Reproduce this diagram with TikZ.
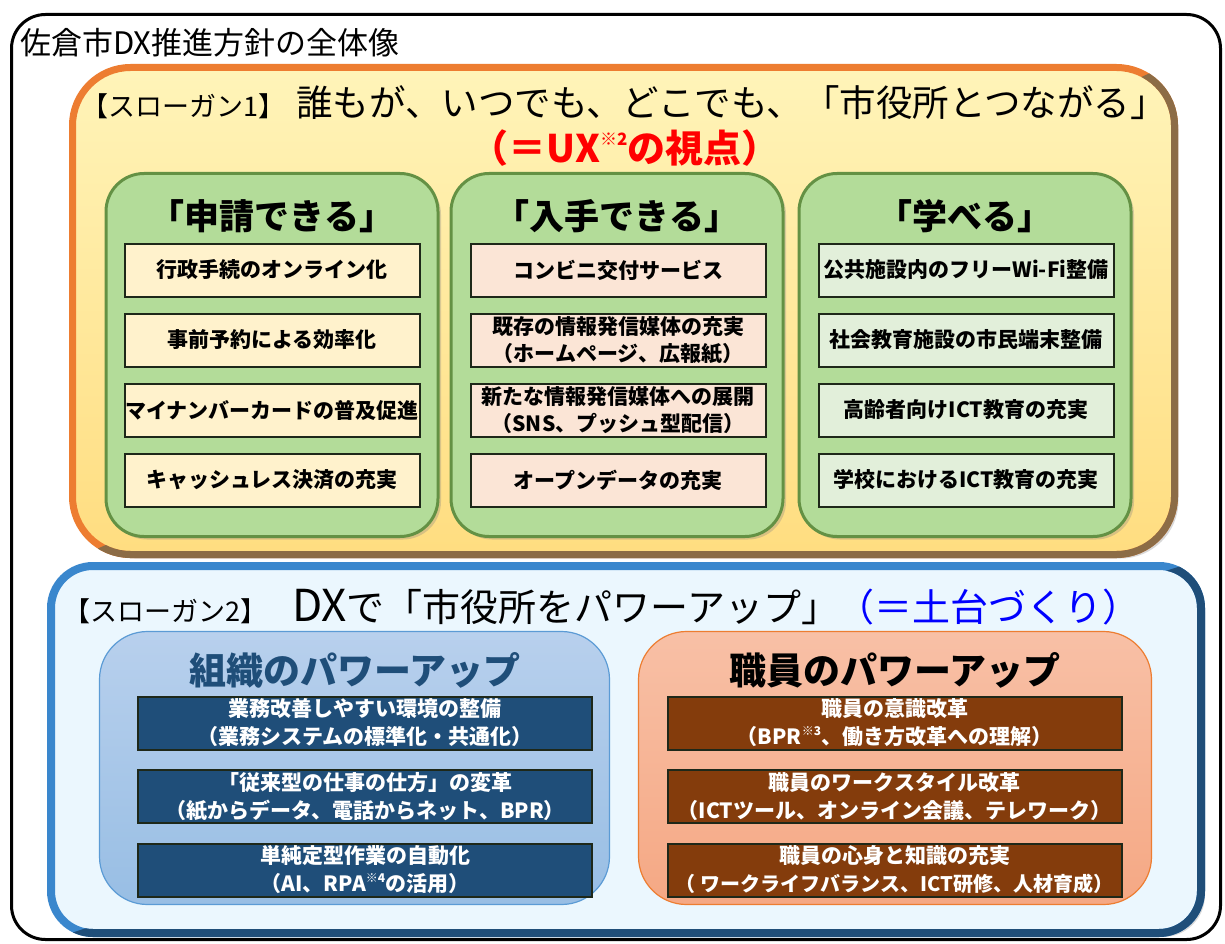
\documentclass[tikz,border=0pt]{standalone}
\usepackage{fontspec}
\setmainfont{Noto Sans CJK JP}
\usepackage{tikz}
\usetikzlibrary{
  positioning,
  calc,
  shadows
}
\definecolor{SloganOneTop}{RGB}{255,244,185}
\definecolor{SloganOneBottom}{RGB}{255,221,128}
\definecolor{SloganOneEdge}{RGB}{237,125,49}
\definecolor{SloganOneDark}{RGB}{140,108,70}
\definecolor{GroupGreen}{RGB}{179,220,153}
\definecolor{GroupGreenEdge}{RGB}{100,145,68}
\definecolor{ItemYellow}{RGB}{255,242,204}
\definecolor{ItemPeach}{RGB}{251,229,214}
\definecolor{ItemGreen}{RGB}{226,239,218}
\definecolor{ItemEdge}{RGB}{30,40,25}
\definecolor{SloganTwoFill}{RGB}{235,247,254}
\definecolor{SloganTwoEdge}{RGB}{58,135,205}
\definecolor{SloganTwoDark}{RGB}{31,78,121}
\definecolor{OrgTop}{RGB}{184,208,237}
\definecolor{OrgBottom}{RGB}{152,190,228}
\definecolor{OrgEdge}{RGB}{91,155,213}
\definecolor{OrgText}{RGB}{31,78,121}
\definecolor{StaffTop}{RGB}{248,192,166}
\definecolor{StaffBottom}{RGB}{245,168,132}
\definecolor{StaffEdge}{RGB}{237,125,49}
\definecolor{StaffItem}{RGB}{132,60,12}
\definecolor{UXRed}{RGB}{255,0,0}
\definecolor{BaseBlue}{RGB}{0,0,255}
% raised note mark (size, number)
\newcommand{\kome}[2]{\raisebox{0.45em}{\fontsize{#1}{#1}\selectfont ※#2}}
\tikzset{
  % Outer frame
  framebox/.style={
    draw=black,
    line width=3pt,
    fill=white,
    rounded corners=34pt,
    minimum width=1209pt,
    minimum height=925pt,
    inner sep=0pt,
    outer sep=0pt
  },
  % Slogan 1 container
  slogan1box/.style={
    draw=SloganOneEdge,
    line width=7pt,
    top color=SloganOneTop,
    bottom color=SloganOneBottom,
    rounded corners=58pt,
    minimum width=1102pt,
    minimum height=487pt,
    inner sep=0pt,
    outer sep=0pt,
    drop shadow={shadow xshift=4pt, shadow yshift=-4pt, opacity=0.3}
  },
  % Slogan 2 container
  slogan2box/.style={
    draw=SloganTwoEdge,
    line width=8pt,
    fill=SloganTwoFill,
    rounded corners=42pt,
    minimum width=1150pt,
    minimum height=367pt,
    inner sep=0pt,
    outer sep=0pt,
    drop shadow={shadow xshift=4pt, shadow yshift=-4pt, opacity=0.3}
  },
  % Green group box
  groupbox/.style={
    draw=GroupGreenEdge,
    line width=3pt,
    fill=GroupGreen,
    rounded corners=38pt,
    minimum width=332pt,
    minimum height=363pt,
    inner sep=0pt,
    outer sep=0pt,
    drop shadow={shadow xshift=3pt, shadow yshift=-3pt, opacity=0.3}
  },
  % Item inside a group
  itembox/.style={
    draw=ItemEdge,
    line width=2pt,
    minimum width=295pt,
    minimum height=53pt,
    inner sep=0pt,
    align=center,
    font=\fontsize{21}{27}\selectfont\bfseries
  },
  % Organisation / staff boxes
  orgbox/.style={
    draw=OrgEdge,
    line width=1.2pt,
    top color=OrgTop,
    bottom color=OrgBottom,
    rounded corners=48pt,
    minimum width=510pt,
    minimum height=273pt,
    inner sep=0pt
  },
  staffbox/.style={
    draw=StaffEdge,
    line width=1.2pt,
    top color=StaffTop,
    bottom color=StaffBottom,
    rounded corners=48pt,
    minimum width=513pt,
    minimum height=273pt,
    inner sep=0pt
  },
  % Dark items
  darkitem/.style={
    draw=ItemEdge,
    line width=2pt,
    text=white,
    minimum width=454pt,
    minimum height=53pt,
    inner sep=0pt,
    align=center,
    font=\fontsize{21}{28}\selectfont\bfseries
  },
  % Texts
  titletext/.style={font=\fontsize{31}{34}\selectfont, inner sep=0pt},
  slogantag/.style={font=\fontsize{27}{30}\selectfont, inner sep=0pt},
  sloganmain/.style={font=\fontsize{36.5}{40}\selectfont, inner sep=0pt},
  slogannote/.style={font=\fontsize{38}{42}\selectfont, inner sep=0pt},
  grouphead/.style={font=\fontsize{35}{40}\selectfont\bfseries, inner sep=0pt},
  powerhead/.style={font=\fontsize{37}{42}\selectfont\bfseries, inner sep=0pt}
}

\begin{document}
\begin{tikzpicture}[x=1pt,y=-1pt]
  \useasboundingbox (0,0) rectangle (1225,944);
  \node[framebox] (frame) at (616,477) {};
  \node[titletext, anchor=base west] (title) at (20,55) {佐倉市DX推進方針の全体像};

  % slogan 1
  \node[slogan1box] (slogan1) at (623.5,311) {};
  \begin{scope}
    \clip ($(slogan1.south west)+(-10,10)$) -- ($(slogan1.north east)+(10,-10)$) -- ($(slogan1.south east)+(10,10)$) -- cycle;
    \draw[SloganOneDark, line width=7pt, rounded corners=58pt] (slogan1.south west) rectangle (slogan1.north east);
  \end{scope}
  \node[slogantag, anchor=base west] (s1tag) at (81,117) {【スローガン1】};
  \node[sloganmain, anchor=base west] (s1main) at (296,117) {誰もが、いつでも、どこでも、「市役所とつながる」};
  \node[slogannote, text=UXRed, font=\fontsize{38}{42}\selectfont\bfseries, anchor=base] (s1note) at (625,163) {（＝UX\kome{17}{2}の視点）};

  \foreach \n/\xx/\hd in {apply/272/「申請できる」, obtain/617/「入手できる」, learn/965/「学べる」} {
    \node[groupbox] (\n) at (\xx,355) {};
    \node[grouphead, anchor=base] (\n-head) at (\xx,229) {\hd};
  }
  \foreach \t [count=\i] in {行政手続のオンライン化, 事前予約による効率化, マイナンバーカードの普及促進, キャッシュレス決済の充実}
    \node[itembox, fill=ItemYellow] (apply\i) at (272,{200+70*\i}) {\t};
  \foreach \t [count=\i] in {コンビニ交付サービス, {既存の情報発信媒体の充実\\（ホームページ、広報紙）}, {新たな情報発信媒体への展開\\（SNS、プッシュ型配信）}, オープンデータの充実}
    \node[itembox, fill=ItemPeach] (obtain\i) at (618,{200+70*\i}) {\t};
  \foreach \t [count=\i] in {公共施設内のフリーWi-Fi整備, 社会教育施設の市民端末整備, 高齢者向けICT教育の充実, 学校におけるICT教育の充実}
    \node[itembox, fill=ItemGreen] (learn\i) at (966,{200+70*\i}) {\t};

  % slogan 2
  \node[slogan2box] (slogan2) at (626,749.5) {};
  \begin{scope}
    \clip ($(slogan2.south west)+(-10,10)$) -- ($(slogan2.north east)+(10,-10)$) -- ($(slogan2.south east)+(10,10)$) -- cycle;
    \draw[SloganTwoDark, line width=8pt, rounded corners=42pt] (slogan2.south west) rectangle (slogan2.north east);
  \end{scope}
  \node[slogantag, anchor=base west] (s2tag) at (63,621) {【スローガン2】};
  \node[sloganmain, font=\fontsize{38}{42}\selectfont, anchor=base west] (s2main) at (292,621) {{\fontsize{44}{44}\selectfont DX}で「市役所をパワーアップ」};
  \node[slogannote, text=BaseBlue, anchor=base east] (s2note) at (1141,621) {（＝土台づくり）};

  \node[orgbox] (org) at (354.5,768) {};
  \node[staffbox] (staff) at (895,768) {};
  \node[powerhead, text=OrgText, anchor=base] (org-head) at (355,684) {組織のパワーアップ};
  \node[powerhead, anchor=base] (staff-head) at (895,684) {職員のパワーアップ};

  \foreach \t [count=\i] in {{業務改善しやすい環境の整備\\（業務システムの標準化・共通化）}, {「従来型の仕事の仕方」の変革\\（紙からデータ、電話からネット、BPR）}, {単純定型作業の自動化\\（AI、RPA\kome{12}{4}の活用）}}
    \node[darkitem, fill=OrgText] (org\i) at (365,{723+73.5*(\i-1)}) {\t};
  \foreach \t [count=\i] in {{職員の意識改革\\（BPR\kome{12}{3}、働き方改革への理解）}, {職員のワークスタイル改革\\（ICTツール、オンライン会議、テレワーク）}, {職員の心身と知識の充実\\{\fontsize{20}{28}\selectfont（ ワークライフバランス、ICT研修、人材育成）}}}
    \node[darkitem, fill=StaffItem] (staff\i) at (894.5,{723+73.5*(\i-1)}) {\t};
\end{tikzpicture}
\end{document}
